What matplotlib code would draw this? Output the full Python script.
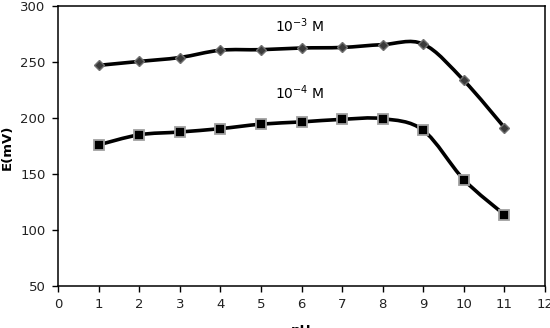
import numpy as np
import matplotlib
matplotlib.use("Agg")
import matplotlib.pyplot as plt
from matplotlib.path import Path
from matplotlib.patches import PathPatch

ph = [1, 2, 3, 4, 5, 6, 7, 8, 9, 10, 11]
e_1e3 = [247, 250.5, 254, 260.5, 261, 262.5, 263, 265.5, 266, 233.5, 191.5]
e_1e4 = [176, 185, 187.5, 190.5, 194.5, 196.5, 198.8, 199.4, 189, 145, 113.7]
xticks = list(range(0, 13))
yticks = [50, 100, 150, 200, 250, 300]


def smooth_path(ax, x, y):
    # Excel-like smoothed line: cubic Bezier through points (Catmull-Rom tangents)
    x = np.asarray(x, float)
    y = np.asarray(y, float)
    verts = [(x[0], y[0])]
    codes = [Path.MOVETO]
    n = len(x)
    for i in range(n - 1):
        p0 = (x[max(i - 1, 0)], y[max(i - 1, 0)])
        p1 = (x[i], y[i])
        p2 = (x[i + 1], y[i + 1])
        p3 = (x[min(i + 2, n - 1)], y[min(i + 2, n - 1)])
        c1 = (p1[0] + (p2[0] - p0[0]) / 6, p1[1] + (p2[1] - p0[1]) / 6)
        c2 = (p2[0] - (p3[0] - p1[0]) / 6, p2[1] - (p3[1] - p1[1]) / 6)
        verts += [c1, c2, p2]
        codes += [Path.CURVE4] * 3
    ax.add_patch(PathPatch(Path(verts, codes), facecolor="none",
                           edgecolor="black", lw=2.6, zorder=2))


fig = plt.figure(figsize=(5.5, 3.28), dpi=100)
ax = fig.add_axes([58 / 550, 1 - 286 / 328, 487 / 550, 280 / 328])

smooth_path(ax, ph, e_1e3)
smooth_path(ax, ph, e_1e4)
ax.plot(ph, e_1e3, ls="none", marker="D", ms=5.5, mfc="#3a3a3a",
        mec="#707070", mew=1.0, zorder=3)
ax.plot(ph, e_1e4, ls="none", marker="s", ms=7, mfc="black",
        mec="#a0a0a0", mew=1.3, zorder=3)

ax.set_xlim(0, 12)
ax.set_ylim(50, 300)
ax.set_xticks(xticks)
ax.set_yticks(yticks)
ax.tick_params(direction="out", length=4, width=1, labelsize=9.5,
               colors="black", labelcolor="#222222", pad=5)
for s in ax.spines.values():
    s.set_linewidth(1.1)
    s.set_color("black")

ax.text(5.96, 282, r"10$^{-3}$ M", ha="center", va="center", fontsize=10)
ax.text(5.96, 223, r"10$^{-4}$ M", ha="center", va="center", fontsize=10)

fig.text(7 / 550, 1 - 147 / 328, "E(mV)", rotation=90, ha="center",
         va="center", fontsize=9.5, fontweight="bold")
fig.text(301 / 550, 1 - 324 / 328, "pH", ha="center", va="top",
         fontsize=9.5, fontweight="bold")

fig.savefig("out.png", dpi=100)
